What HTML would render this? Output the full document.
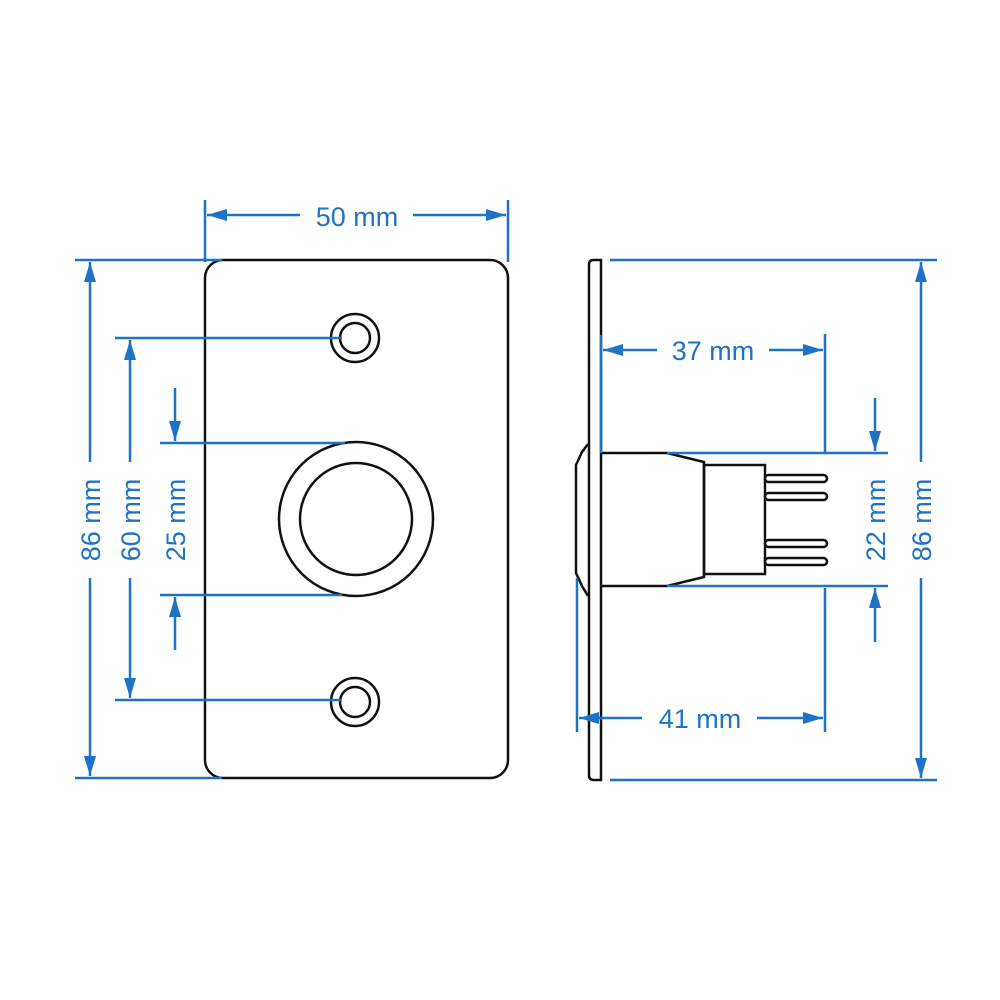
<!DOCTYPE html>
<html><head><meta charset="utf-8"><style>html,body{margin:0;background:#fff}svg{display:block}</style></head><body>
<svg width="1000" height="1000" viewBox="0 0 1000 1000" xmlns="http://www.w3.org/2000/svg">
<defs>
<marker id="b" viewBox="0 0 20 12" refX="20" refY="6" markerWidth="20" markerHeight="12" orient="auto-start-reverse" markerUnits="userSpaceOnUse"><path d="M0,0 L20,6 L0,12z" fill="#1f73c6"/></marker>
</defs>
<g fill="none" stroke="#111" stroke-width="2.5">
<rect x="205" y="260" width="303" height="518" rx="18"/>
<circle cx="355" cy="338" r="24"/><circle cx="355" cy="338" r="15"/>
<circle cx="355" cy="702" r="24"/><circle cx="355" cy="702" r="15"/>
<circle cx="356" cy="519" r="77"/><circle cx="356" cy="519" r="56"/>
<path d="M601,780 L601,260 L593,260 Q589,260 589,265 L589,775 Q589,780 594,780 Z"/>
<path d="M588,444 L582,452 L576,465 L576,573 L582,586 L588,596"/>
<path d="M601,453 L667,453 L704,462 L704,577 L667,586 L601,586"/>
<rect x="704" y="465" width="61" height="109"/>
</g>
<g fill="#fff" stroke="#111" stroke-width="2.5">
<rect x="765" y="475" width="62" height="7" rx="3.5"/>
<rect x="765" y="493" width="62" height="7" rx="3.5"/>
<rect x="765" y="540" width="62" height="7" rx="3.5"/>
<rect x="765" y="558" width="62" height="7" rx="3.5"/>
</g>
<g stroke="#1f73c6" stroke-width="2.5" fill="none">
<line x1="205" y1="200" x2="205" y2="262"/><line x1="508" y1="200" x2="508" y2="262"/>
<line x1="207" y1="215" x2="300" y2="215" marker-start="url(#b)"/><line x1="413" y1="215" x2="506" y2="215" marker-end="url(#b)"/>
<line x1="75" y1="260" x2="222" y2="260"/><line x1="75" y1="778" x2="222" y2="778"/>
<line x1="90" y1="262" x2="90" y2="462" marker-start="url(#b)"/><line x1="90" y1="578" x2="90" y2="776" marker-end="url(#b)"/>
<line x1="115" y1="338" x2="342" y2="338"/><line x1="115" y1="700" x2="342" y2="700"/>
<line x1="130" y1="340" x2="130" y2="462" marker-start="url(#b)"/><line x1="130" y1="578" x2="130" y2="698" marker-end="url(#b)"/>
<line x1="160" y1="443" x2="345" y2="443"/><line x1="160" y1="595" x2="342" y2="595"/>
<line x1="175" y1="388" x2="175" y2="441" marker-end="url(#b)"/><line x1="175" y1="650" x2="175" y2="597" marker-end="url(#b)"/>
<line x1="601" y1="335" x2="601" y2="453"/>
<line x1="603" y1="350" x2="657" y2="350" marker-start="url(#b)"/><line x1="769" y1="350" x2="823" y2="350" marker-end="url(#b)"/>
<line x1="825" y1="334" x2="825" y2="453"/>
<line x1="667" y1="453" x2="888" y2="453"/><line x1="667" y1="586" x2="888" y2="586"/>
<line x1="875" y1="398" x2="875" y2="451" marker-end="url(#b)"/><line x1="875" y1="642" x2="875" y2="588" marker-end="url(#b)"/>
<line x1="577" y1="578" x2="577" y2="732"/><line x1="825" y1="588" x2="825" y2="732"/>
<line x1="579" y1="718" x2="642" y2="718" marker-start="url(#b)"/><line x1="757" y1="718" x2="823" y2="718" marker-end="url(#b)"/>
<line x1="610" y1="260" x2="937" y2="260"/><line x1="610" y1="780" x2="937" y2="780"/>
<line x1="921" y1="262" x2="921" y2="462" marker-start="url(#b)"/><line x1="921" y1="578" x2="921" y2="778" marker-end="url(#b)"/>
</g>
<g fill="#1f73c6" font-family="Liberation Sans, sans-serif" font-size="27" text-anchor="middle">
<text x="357" y="226">50 mm</text>
<text x="713" y="360">37 mm</text>
<text x="700" y="728">41 mm</text>
<text transform="translate(100,520) rotate(-90)">86 mm</text>
<text transform="translate(140,520) rotate(-90)">60 mm</text>
<text transform="translate(185,520) rotate(-90)">25 mm</text>
<text transform="translate(885,520) rotate(-90)">22 mm</text>
<text transform="translate(931,520) rotate(-90)">86 mm</text>
</g>
</svg>
</body></html>
